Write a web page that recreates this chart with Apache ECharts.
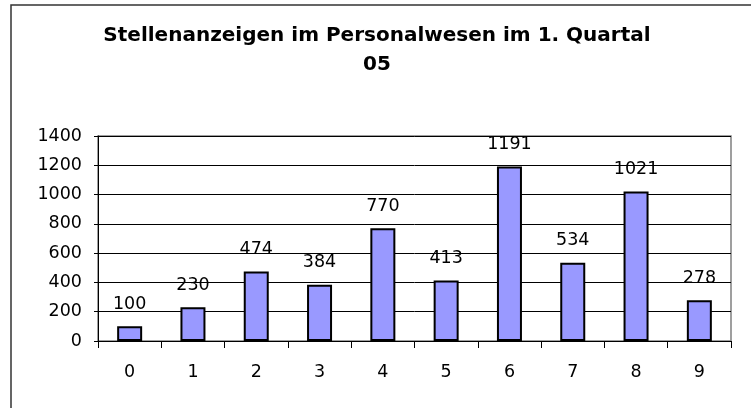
<!DOCTYPE html>
<html lang="de">
<head>
  <meta charset="UTF-8">
  <title>Stellenanzeigen im Personalwesen</title>
  <style>
    * { margin: 0; padding: 0; }
    html, body { width: 751px; height: 408px; background: #fff; overflow: hidden; }
    #chart { width: 751px; height: 408px; }
  </style>
</head>
<body>
  <div id="chart"></div>
  <script src="https://cdn.jsdelivr.net/npm/echarts@6/dist/echarts.min.js"></script>
  <script>
    // Daten
    const categories = ['0', '1', '2', '3', '4', '5', '6', '7', '8', '9'];
    const values = [100, 230, 474, 384, 770, 413, 1191, 534, 1021, 278];
    const titleText = 'Stellenanzeigen im Personalwesen im 1. Quartal\n05';

    const font = 'DejaVu Sans';
    const chart = echarts.init(document.getElementById('chart'), null, { renderer: 'canvas' });

    const option = {
      animation: false,
      backgroundColor: '#fff',
      title: {
        text: titleText,
        left: 372,
        top: 16,
        textAlign: 'center',
        textStyle: {
          fontFamily: font,
          fontWeight: 'bold',
          fontSize: 20,
          lineHeight: 29,
          color: '#000'
        }
      },
      // Rahmen um das ganze Diagramm
      graphic: [{
        type: 'rect',
        shape: { x: 11, y: 5, width: 800, height: 500 },
        style: { fill: null, stroke: '#333', lineWidth: 1.5 },
        silent: true
      }],
      grid: {
        left: 98,
        right: 20,
        top: 136,
        bottom: 67,
        show: true,
        borderColor: '#808080',
        borderWidth: 1.5,
        backgroundColor: '#fff'
      },
      xAxis: {
        type: 'category',
        data: categories,
        axisLine: { lineStyle: { color: '#000', width: 1 } },
        axisTick: { show: true, length: 7, lineStyle: { color: '#000' } },
        axisLabel: { fontFamily: font, fontSize: 17.5, color: '#000', margin: 22 }
      },
      yAxis: {
        type: 'value',
        min: 0,
        max: 1400,
        interval: 200,
        axisLine: { show: true, lineStyle: { color: '#000', width: 1 } },
        axisTick: { show: true, length: 4, lineStyle: { color: '#000' } },
        axisLabel: {
          fontFamily: font, fontSize: 17.5, color: '#000', margin: 16,
          formatter: v => String(v)
        },
        splitLine: { lineStyle: { color: '#000', width: 1 } }
      },
      series: [{
        type: 'bar',
        data: values,
        barWidth: 25,
        itemStyle: { color: '#9999FF', borderColor: '#000', borderWidth: 2 },
        label: {
          show: true,
          position: 'top',
          distance: 13,
          fontFamily: font,
          fontSize: 17.5,
          color: '#000'
        }
      }]
    };

    chart.setOption(option);
  </script>
</body>
</html>
